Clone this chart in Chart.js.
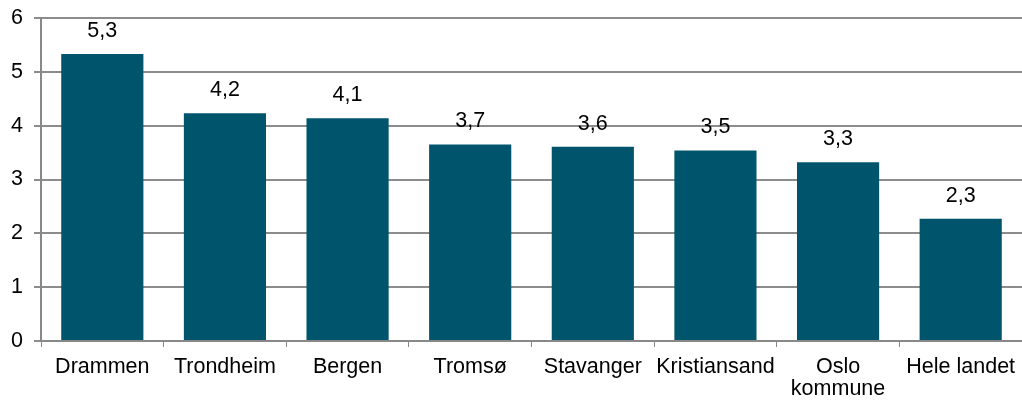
<!DOCTYPE html>
<html>
<head>
<meta charset="utf-8">
<script src="https://cdn.jsdelivr.net/npm/chart.js@4"></script>
<style>
  html, body { margin: 0; padding: 0; background: #fff; }
  #wrap { width: 1022px; height: 403px; }
</style>
</head>
<body>
<div id="wrap"><canvas id="myChart"></canvas></div>
<script>
// data
const categories = ['Drammen', 'Trondheim', 'Bergen', 'Tromsø', 'Stavanger', 'Kristiansand', ['Oslo', 'kommune'], 'Hele landet'];
const values = [5.33, 4.23, 4.14, 3.65, 3.61, 3.54, 3.32, 2.27];
const valueLabels = ['5,3', '4,2', '4,1', '3,7', '3,6', '3,5', '3,3', '2,3'];
const yTicks = [0, 1, 2, 3, 4, 5, 6];

const font = { family: 'Liberation Sans, Arial, sans-serif', size: 21.5, lineHeight: 1.03 };

// draw the value text above each bar
const barLabels = {
  id: 'barLabels',
  afterDatasetsDraw(chart) {
    const ctx = chart.ctx;
    const meta = chart.getDatasetMeta(0);
    ctx.save();
    ctx.font = font.size + 'px ' + font.family;
    ctx.fillStyle = '#000';
    ctx.textAlign = 'center';
    ctx.textBaseline = 'middle';
    meta.data.forEach((bar, i) => {
      ctx.fillText(valueLabels[i], bar.x, bar.y - 23);
    });
    ctx.restore();
  }
};

const data = {
  labels: categories,
  datasets: [{
    data: values,
    backgroundColor: '#00546c',
    barPercentage: 0.67,
    categoryPercentage: 1
  }]
};

const config = {
  type: 'bar',
  data: data,
  plugins: [barLabels],
  options: {
    responsive: true,
    maintainAspectRatio: false,
    animation: false,
    layout: { padding: { top: 18, right: 0, left: 0, bottom: 0 } },
    plugins: { legend: { display: false }, tooltip: { enabled: false } },
    scales: {
      x: {
        afterFit(scale) { scale.height = 62; scale.paddingLeft = 0; scale.paddingRight = 0; },
        grid: { drawOnChartArea: false, drawTicks: true, tickLength: 6, color: '#888', offset: true },
        border: { color: '#888', width: 2 },
        ticks: { color: '#000', font: font, padding: 9, maxRotation: 0, minRotation: 0, autoSkip: false }
      },
      y: {
        min: 0,
        max: 6,
        afterFit(scale) { scale.width = 41; scale.paddingTop = 0; scale.paddingBottom = 0; },
        afterBuildTicks(scale) { scale.ticks = yTicks.map(v => ({ value: v })); },
        grid: { color: '#8c8c8c', lineWidth: 2, tickLength: 7 },
        border: { color: '#888', width: 2 },
        ticks: { color: '#000', font: font, padding: 11 }
      }
    }
  }
};

const myChart = new Chart(document.getElementById('myChart'), config);
</script>
</body>
</html>
